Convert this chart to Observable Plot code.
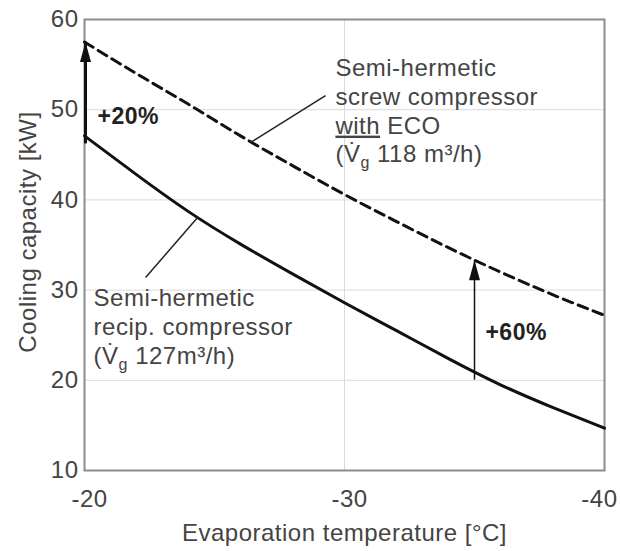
<!DOCTYPE html>
<html>
<head>
<meta charset="utf-8">
<script src="https://cdn.jsdelivr.net/npm/d3@7"></script>
<script src="https://cdn.jsdelivr.net/npm/@observablehq/plot@0.6"></script>
<style>
  body { margin: 0; background: #fff; }
  #chart svg text { letter-spacing: 0.5px; }
</style>
</head>
<body>
<div id="chart"></div>
<script>
// ---- data ----
const temps    = [-20, -22, -24, -26, -28, -30, -32, -34, -36, -38, -40];
const screwEco = [57.5, 54.0, 50.6, 47.1, 43.8, 40.6, 37.6, 34.7, 32.0, 29.5, 27.2];
const recip    = [47.1, 42.8, 38.7, 35.1, 31.8, 28.6, 25.5, 22.4, 19.5, 17.0, 14.7];

const arrowTemps  = [-20, -35];
const arrowFrom   = [47.1, 20.9];
const arrowTo     = [57.5, 33.3];
const arrowLabels = ["+20%", "+60%"];
const arrowLabelX = [-20.5, -35.42];
const arrowLabelY = [50.2, 26.3];

const noteTexts = [
  "Semi-hermetic\nscrew compressor\nwith ECO\n(V\u0307g 118 m³/h)",
  "Semi-hermetic\nrecip. compressor\n(V\u0307g 127m³/h)"
];
const noteX = [-29.65, -20.35];
const noteY = [56.0, 30.5];
const leaderX1 = [-26.38, -24.35];
const leaderY1 = [46.36, 38.05];
const leaderX2 = [-29.27, -22.35];
const leaderY2 = [51.57, 31.4];

const xTicks = [-20, -30, -40];
const yTicks = [10, 20, 30, 40, 50, 60];
const gridXTicks = [-30];
const gridYTicks = [20, 30, 40, 50];
const xLabel = "Evaporation temperature [°C]";
const yLabel = "Cooling capacity [kW]";

// ---- tables built from the arrays ----
const screwData = temps.map((t, i) => ({t, v: screwEco[i]}));
const recipData = temps.map((t, i) => ({t, v: recip[i]}));
const arrows = arrowTemps.map((t, i) => ({t, from: arrowFrom[i], to: arrowTo[i]}));
const pcts = arrowLabels.map((s, i) => ({s, x: arrowLabelX[i], y: arrowLabelY[i]}));
const notes = noteTexts.map((s, i) => ({s, x: noteX[i], y: noteY[i]}));
const leaders = leaderX1.map((x, i) => ({x1: x, y1: leaderY1[i], x2: leaderX2[i], y2: leaderY2[i]}));

// filled, narrow arrowhead with its tip at the anchor point
const head = {
  draw(context) {
    context.moveTo(0, 0);
    context.lineTo(-5.5, 20);
    context.lineTo(5.5, 20);
    context.closePath();
  }
};

const font = "'Liberation Sans', Arial, Helvetica, sans-serif";
const ink = "#111";
const grey = "#444";
const fmt = d => String(d);

const chart = Plot.plot({
  width: 620,
  height: 551,
  marginLeft: 84,
  marginRight: 16,
  marginTop: 19,
  marginBottom: 81,
  style: {fontFamily: font, background: "#fff", color: grey},
  x: {domain: [-20, -40]},
  y: {domain: [10, 60]},
  marks: [
    Plot.gridY(gridYTicks, {stroke: "#dadada", strokeOpacity: 1}),
    Plot.gridX(gridXTicks, {stroke: "#dadada", strokeOpacity: 1}),
    Plot.frame({stroke: "#8c8c8c", strokeWidth: 2}),
    Plot.axisX(xTicks.slice(0, 2), {
      tickSize: 0, tickPadding: 19, fontSize: 24, fill: grey, dx: 5,
      tickFormat: fmt, label: null
    }),
    Plot.axisX(xTicks.slice(2), {
      tickSize: 0, tickPadding: 19, fontSize: 24, fill: grey, dx: 13,
      textAnchor: "end", tickFormat: fmt, label: null
    }),
    Plot.axisY(yTicks, {
      tickSize: 0, tickPadding: 6, fontSize: 24, fill: grey,
      tickFormat: fmt, label: null
    }),
    Plot.text([xLabel], {frameAnchor: "bottom", lineAnchor: "middle", textAnchor: "middle", dy: 63, fontSize: 24, fill: grey}),
    Plot.text([yLabel], {frameAnchor: "left", rotate: -90, textAnchor: "middle", lineAnchor: "middle", dx: -56, dy: -13, fontSize: 24, fill: grey}),

    Plot.line(screwData, {x: "t", y: "v", stroke: ink, strokeWidth: 3, strokeDasharray: "10,6", curve: "natural"}),
    Plot.line(recipData, {x: "t", y: "v", stroke: ink, strokeWidth: 3, curve: "natural"}),

    Plot.ruleX(arrows.slice(0, 1), {x: "t", y1: "from", y2: "to", stroke: ink, strokeWidth: 3, dx: 1, insetTop: 8}),
    Plot.ruleX(arrows.slice(1), {x: "t", y1: "from", y2: "to", stroke: ink, strokeWidth: 1.5, insetTop: 8}),
    Plot.dot(arrows.slice(0, 1), {x: "t", y: "to", symbol: head, fill: ink, stroke: "none", dx: 1}),
    Plot.dot(arrows.slice(1), {x: "t", y: "to", symbol: head, fill: ink, stroke: "none"}),

    Plot.link(leaders, {x1: "x1", y1: "y1", x2: "x2", y2: "y2", stroke: "#222", strokeWidth: 1.5}),

    Plot.text(notes, {x: "x", y: "y", text: "s", textAnchor: "start", lineAnchor: "top", lineHeight: 1.2, fontSize: 24, fill: grey}),
    Plot.text(pcts, {x: "x", y: "y", text: "s", textAnchor: "start", lineAnchor: "top", fontSize: 23, fontWeight: "bold", fill: "#222"})
  ]
});

// typographic details: underline "with" and subscript g
const NS = "http://www.w3.org/2000/svg";
function span(txt, attrs) {
  const e = document.createElementNS(NS, "tspan");
  for (const k in attrs) e.setAttribute(k, attrs[k]);
  e.textContent = txt;
  return e;
}
const prefix = "(V\u0307g";
chart.querySelectorAll("text, tspan").forEach(el => {
  if (el.children.length) return;
  const s = el.textContent;
  if (s === "with ECO") {
    el.textContent = "";
    el.appendChild(span("with", {"text-decoration": "underline"}));
    el.appendChild(document.createTextNode(" ECO"));
  } else if (s.startsWith(prefix)) {
    el.textContent = "";
    el.appendChild(document.createTextNode("(V\u0307"));
    el.appendChild(span("g", {"font-size": "16", dy: "6"}));
    el.appendChild(span(s.slice(prefix.length), {dy: "-6"}));
  }
});

document.getElementById("chart").appendChild(chart);
</script>
</body>
</html>
